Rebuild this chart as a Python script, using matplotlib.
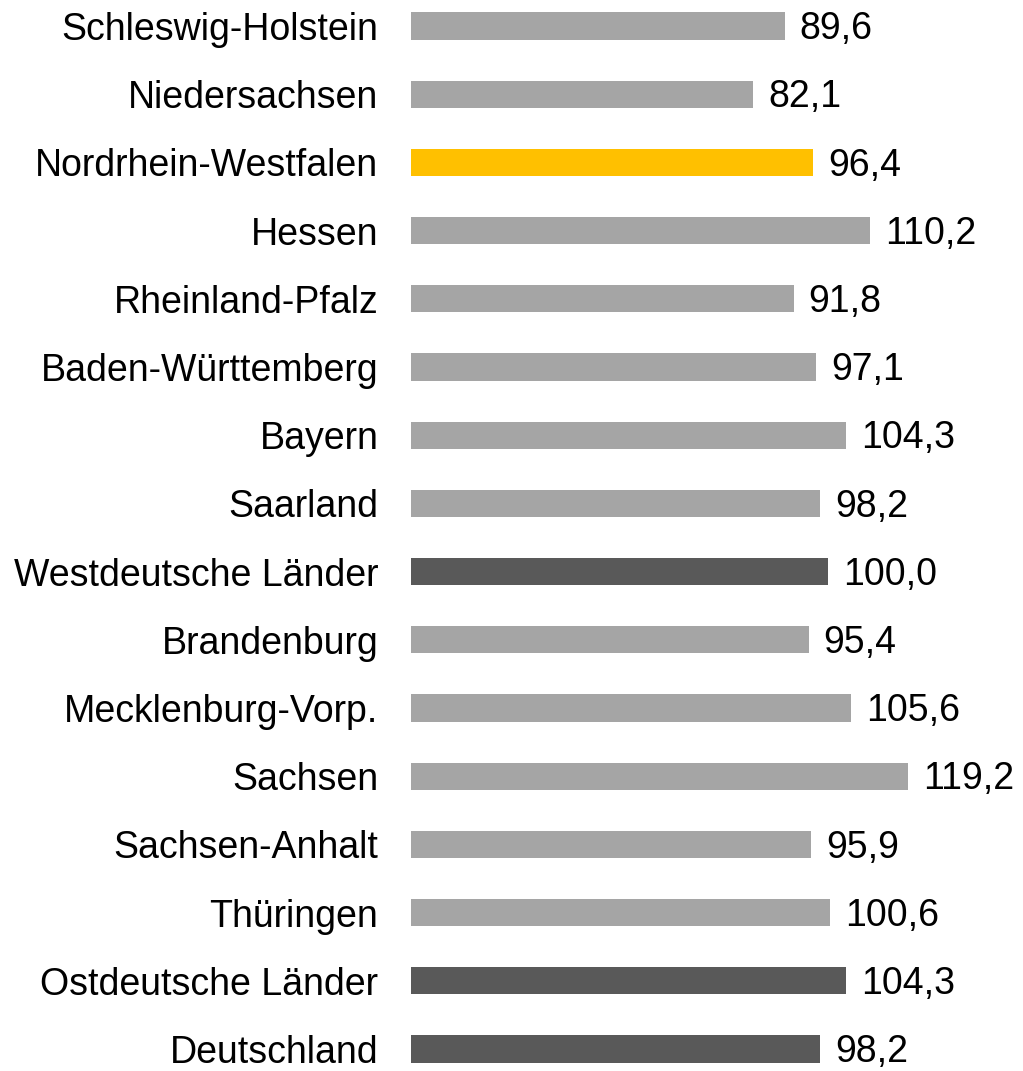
import matplotlib
matplotlib.use("Agg")
import matplotlib.pyplot as plt

categories = ["Schleswig-Holstein", "Niedersachsen", "Nordrhein-Westfalen", "Hessen",
              "Rheinland-Pfalz", "Baden-Württemberg", "Bayern", "Saarland",
              "Westdeutsche Länder", "Brandenburg", "Mecklenburg-Vorp.", "Sachsen",
              "Sachsen-Anhalt", "Thüringen", "Ostdeutsche Länder", "Deutschland"]
values = [89.6, 82.1, 96.4, 110.2, 91.8, 97.1, 104.3, 98.2,
          100.0, 95.4, 105.6, 119.2, 95.9, 100.6, 104.3, 98.2]
kinds = ["land", "land", "nrw", "land", "land", "land", "land", "land",
         "agg", "land", "land", "land", "land", "land", "agg", "agg"]

color_map = {"land": "#A5A5A5", "nrw": "#FFC000", "agg": "#595959"}

plt.rcParams['font.family'] = ['Liberation Sans', 'DejaVu Sans']
FS = 27

fig = plt.figure(figsize=(10.23, 10.71), dpi=100)
ax = fig.add_axes([411/1023, 0, 612/1023, 1])

pos = list(range(len(categories)))
ax.barh(pos, values, height=0.40, color=[color_map[k] for k in kinds])
for p, v in zip(pos, values):
    ax.text(v + 3.6, p + 0.195, f"{v:.1f}".replace(".", ","), va="baseline", ha="left",
            fontsize=FS, color="#000000")

# row pitch ~68.2 px, first row centre ~26 px from top
pitch = (1049 - 26) / 15
ax.set_xlim(0, 146.8)
ax.set_ylim(-26 / pitch + 1071 / pitch, -26 / pitch)
ax.set_yticks(pos)
ax.set_yticklabels(categories, fontsize=FS)
ax.tick_params(axis="y", length=0, pad=23.5)
ax.set_xticks([])
for s in ax.spines.values():
    s.set_visible(False)

fig.savefig("out.png", dpi=100)
